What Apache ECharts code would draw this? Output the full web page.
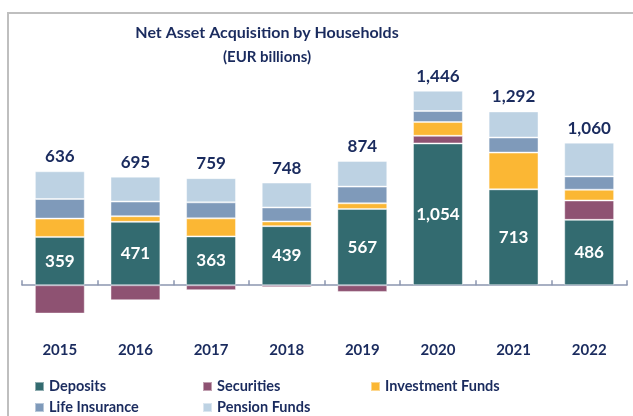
<!DOCTYPE html>
<html>
<head>
<meta charset="utf-8">
<script src="https://cdn.jsdelivr.net/npm/echarts@6/dist/echarts.min.js"></script>
<style>
  html, body { margin: 0; padding: 0; background: #fff; }
  #frame {
    position: absolute; left: 7px; top: 12px; width: 700px; height: 500px;
    border-left: 2px solid #bfbfbf; border-top: 2px solid #bfbfbf;
  }
  #chart { position: absolute; left: 0; top: 0; width: 633px; height: 416px; }
</style>
</head>
<body>
<div id="frame"></div>
<div id="chart"></div>
<script>
// 数据
const categories = ['2015', '2016', '2017', '2018', '2019', '2020', '2021', '2022'];
const deposits = [359, 471, 363, 439, 567, 1054, 713, 486];
const securities = [-211, -112, -37, -15, -50, 57, 0, 144];
const investmentFunds = [136, 42, 134, 35, 42, 102, 273, 80];
const lifeInsurance = [146, 109, 119, 104, 124, 82, 112, 99];
const pensionFunds = [206, 185, 180, 185, 191, 151, 194, 251];
const totals = [636, 695, 759, 748, 874, 1446, 1292, 1060];

const navy = '#1a2b5e';
const font = 'Lato';
const fmt = v => Number(v).toLocaleString('en-US');

const chart = echarts.init(document.getElementById('chart'));

const legendPos = [
  { name: 'Deposits', left: 34, top: 379 },
  { name: 'Securities', left: 202, top: 379 },
  { name: 'Investment Funds', left: 370, top: 379 },
  { name: 'Life Insurance', left: 34, top: 400 },
  { name: 'Pension Funds', left: 202, top: 400 }
];

function barSeries(name, data, color, extra) {
  return Object.assign({
    name: name,
    type: 'bar',
    stack: 'total',
    data: data,
    barCategoryGap: '34%',
    itemStyle: { color: color, borderColor: 'rgba(255,255,255,0.45)', borderWidth: 1 },
    emphasis: { disabled: true }
  }, extra || {});
}

chart.setOption({
  animation: false,
  backgroundColor: 'transparent',
  title: {
    text: 'Net Asset Acquisition by Households',
    subtext: '(EUR billions)',
    left: 262,
    top: 20,
    textAlign: 'center',
    itemGap: 9,
    textStyle: { fontFamily: font, fontSize: 16, fontWeight: 'bold', color: navy },
    subtextStyle: { fontFamily: font, fontSize: 15, fontWeight: 'bold', color: navy }
  },
  legend: legendPos.map(p => ({
    data: [p.name],
    left: p.left,
    top: p.top,
    padding: 0,
    icon: 'rect',
    itemWidth: 9,
    itemHeight: 9,
    selectedMode: false,
    textStyle: { fontFamily: font, fontSize: 14.5, fontWeight: 'bold', color: navy }
  })),
  grid: { left: 22, right: 6, top: 70, bottom: 77 },
  xAxis: {
    type: 'category',
    data: categories,
    axisLine: { lineStyle: { color: '#8c96b0', width: 1.5 } },
    axisTick: { show: true, inside: true, length: 5, lineStyle: { color: '#8c96b0', width: 1.5 } },
    axisLabel: {
      margin: 4,
      fontFamily: font,
      fontSize: 15,
      fontWeight: 'bold',
      color: navy
    }
  },
  yAxis: {
    type: 'value',
    min: -400,
    max: 1600,
    show: false,
    splitLine: { show: false }
  },
  series: [
    barSeries('Deposits', deposits, '#336b70', {
      label: {
        show: true,
        position: 'inside',
        formatter: p => fmt(p.value),
        fontFamily: font,
        fontSize: 17,
        fontWeight: 'bold',
        color: '#ffffff'
      }
    }),
    barSeries('Securities', securities, '#8e5272'),
    barSeries('Investment Funds', investmentFunds, '#fbb734'),
    barSeries('Life Insurance', lifeInsurance, '#7f9aba'),
    barSeries('Pension Funds', pensionFunds, '#bdd2e3', {
      label: {
        show: true,
        position: 'top',
        distance: 6,
        formatter: p => fmt(totals[p.dataIndex]),
        fontFamily: font,
        fontSize: 17,
        fontWeight: 'bold',
        color: navy
      }
    })
  ]
});
</script>
</body>
</html>
